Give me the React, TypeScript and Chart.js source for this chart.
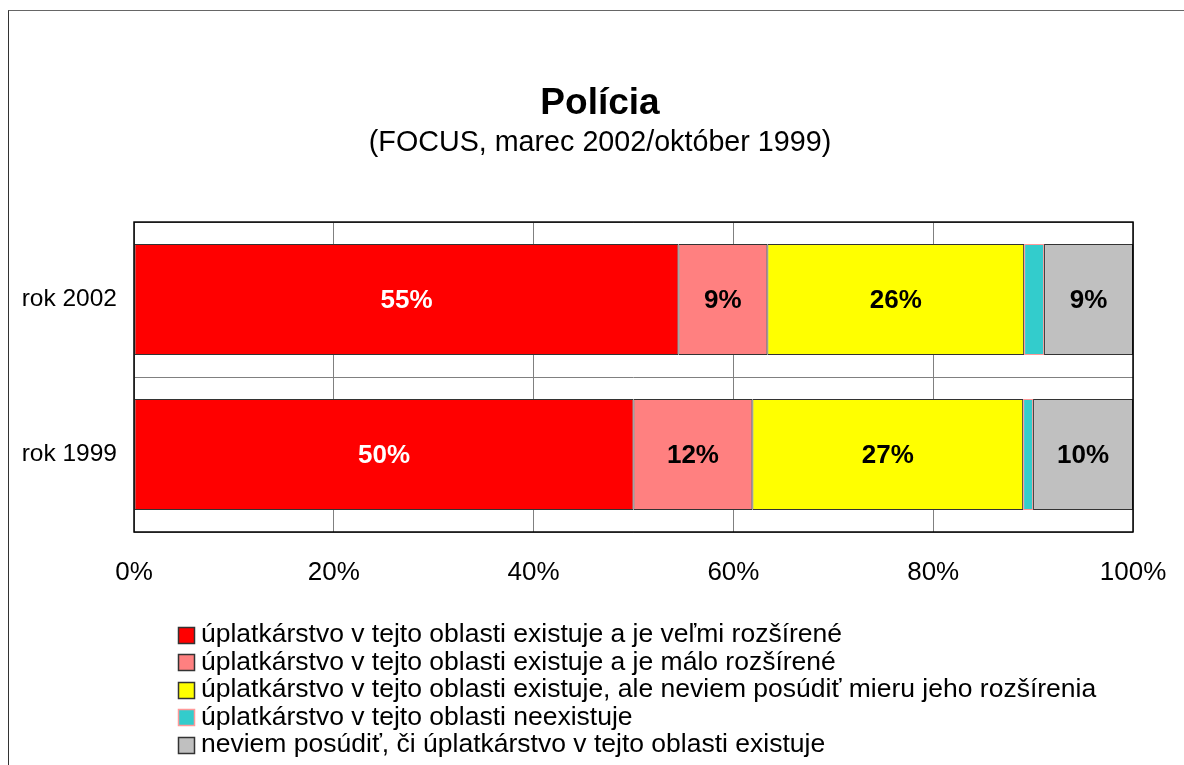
import { useEffect, useRef } from 'react';
import { Chart, registerables } from 'chart.js';

Chart.register(...registerables);

const FONT = '"Liberation Sans", Arial, Helvetica, sans-serif';

const TITLE = 'Polícia';
const SUBTITLE = '(FOCUS, marec 2002/október 1999)';

const categories = ['rok 2002', 'rok 1999'];

const seriesNames = [
  'úplatkárstvo v tejto oblasti existuje a je veľmi rozšírené',
  'úplatkárstvo v tejto oblasti existuje a je málo rozšírené',
  'úplatkárstvo v tejto oblasti existuje, ale neviem posúdiť mieru jeho rozšírenia',
  'úplatkárstvo v tejto oblasti neexistuje',
  'neviem posúdiť, či úplatkárstvo v tejto oblasti existuje',
];

const veryWidespread = [54.5, 50];
const littleWidespread = [8.9, 11.9];
const extentUnknown = [25.7, 27.1];
const doesNotExist = [2.0, 1.0];
const cannotJudge = [8.9, 10];

const seriesValues = [veryWidespread, littleWidespread, extentUnknown, doesNotExist, cannotJudge];

const fillColors = ['#FF0000', '#FF8080', '#FFFF00', '#33CCCC', '#C0C0C0'];
const edgeColors = ['#333333', '#333333', '#333333', '#FF9999', '#333333'];
const labelColors = ['#FFFFFF', '#000000', '#000000', '#000000', '#000000'];

const xTickStep = 20;

const overlayPlugin = {
  id: 'overlay',
  afterDatasetsDraw(chart: any) {
    const { ctx, chartArea } = chart;
    ctx.save();
    ctx.strokeStyle = '#000000';
    ctx.lineWidth = 1.5;
    ctx.strokeRect(chartArea.left, chartArea.top, chartArea.right - chartArea.left, chartArea.bottom - chartArea.top);
    ctx.font = `bold 26px ${FONT}`;
    ctx.textAlign = 'center';
    ctx.textBaseline = 'middle';
    chart.data.datasets.forEach((ds: any, i: number) => {
      const meta = chart.getDatasetMeta(i);
      meta.data.forEach((el: any, j: number) => {
        const v = ds.data[j];
        if (v < 3) return;
        const c = el.getCenterPoint();
        ctx.fillStyle = labelColors[i];
        ctx.fillText(`${Math.round(v)}%`, c.x, c.y + 1.5);
      });
    });
    ctx.restore();
  },
  afterDraw(chart: any) {
    const { ctx } = chart;
    ctx.save();
    const boxX = 169.5;
    const box = 16;
    const textX = 192;
    const y0 = 624;
    const step = 27.4;
    ctx.font = `26.5px ${FONT}`;
    ctx.textAlign = 'left';
    ctx.textBaseline = 'middle';
    seriesNames.forEach((name, i) => {
      const cy = y0 + i * step;
      ctx.fillStyle = fillColors[i];
      ctx.fillRect(boxX, Math.round(cy - box / 2) + 0.5, box, box);
      ctx.strokeStyle = edgeColors[i];
      ctx.lineWidth = 1.5;
      ctx.strokeRect(boxX, Math.round(cy - box / 2) + 0.5, box, box);
      ctx.fillStyle = '#000000';
      ctx.fillText(name, textX, cy);
    });
    ctx.restore();
  },
};

export default function App() {
  const ref = useRef<HTMLCanvasElement>(null);

  useEffect(() => {
    const chart = new Chart(ref.current as HTMLCanvasElement, {
      type: 'bar',
      data: {
        labels: categories,
        datasets: seriesNames.map((name, i) => ({
          label: name,
          data: seriesValues[i],
          backgroundColor: fillColors[i],
          borderColor: edgeColors[i],
          borderWidth: 1,
          borderSkipped: false,
          categoryPercentage: 1,
          barPercentage: 0.716,
        })),
      },
      options: {
        indexAxis: 'y',
        responsive: false,
        animation: false,
        devicePixelRatio: 1,
        layout: { padding: { top: 0, left: 0, right: -7, bottom: 173 } },
        plugins: {
          legend: { display: false },
          tooltip: { enabled: false },
          title: {
            display: true,
            text: TITLE,
            color: '#000000',
            font: { family: FONT, size: 37, weight: 'bold' },
            padding: { top: 70.5, bottom: 0 },
          },
          subtitle: {
            display: true,
            text: SUBTITLE,
            color: '#000000',
            font: { family: FONT, size: 28.7, weight: 'normal' },
            padding: { top: 0, bottom: 61.7 },
          },
        },
        scales: {
          x: {
            stacked: true,
            min: 0,
            max: 100,
            ticks: {
              stepSize: xTickStep,
              color: '#000000',
              font: { family: FONT, size: 26 },
              padding: 0,
              callback: (v: any) => `${v}%`,
              maxRotation: 0,
            },
            grid: {
              color: '#808080',
              lineWidth: 1,
              drawTicks: true,
              tickLength: 25,
              tickColor: 'rgba(0,0,0,0)',
            },
            border: { display: false },
            afterFit: (s: any) => {
              s.height = 60;
            },
          },
          y: {
            stacked: true,
            ticks: {
              color: '#000000',
              font: { family: FONT, size: 24.5 },
              padding: 17,
            },
            grid: { color: '#808080', lineWidth: 1, drawTicks: false, offset: true },
            border: { display: false },
            afterFit: (s: any) => {
              s.width = 125;
            },
          },
          yRight: {
            type: 'category',
            position: 'right',
            labels: categories,
            ticks: { display: false },
            grid: { display: false },
            border: { display: false },
            afterFit: (s: any) => {
              s.width = 58;
            },
          },
        },
      },
      plugins: [overlayPlugin],
    } as any);
    return () => chart.destroy();
  }, []);

  return (
    <div
      style={{
        position: 'absolute',
        left: 8,
        top: 10,
        width: 1176,
        height: 755,
        boxSizing: 'border-box',
        borderLeft: '1px solid #333333',
        borderTop: '1px solid #666666',
        background: '#ffffff',
        overflow: 'hidden',
      }}
    >
      <canvas ref={ref} width={1175} height={754} style={{ display: 'block' }} />
    </div>
  );
}
